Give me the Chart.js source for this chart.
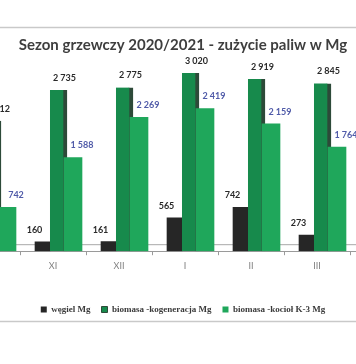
<!DOCTYPE html>
<html>
<head>
<meta charset="utf-8">
<script src="https://cdn.jsdelivr.net/npm/chart.js@4/dist/chart.umd.min.js"></script>
<style>
  html, body { margin:0; padding:0; background:#ffffff; }
  body { width:356px; height:364px; overflow:hidden; position:relative; }
  #wrap { position:absolute; left:0; top:0; width:366px; height:364px; }
</style>
</head>
<body>
<div id="wrap"><canvas id="c" width="366" height="364"></canvas></div>
<script>
// ---- data ----
const categories = ['X', 'XI', 'XII', 'I', 'II', 'III'];
const wegiel = [null, 160, 161, 565, 742, 273];
const kogeneracja = [2212, 2735, 2775, 3020, 2919, 2845];
const kociol = [742, 1588, 2269, 2419, 2159, 1764];
const seriesNames = ['węgiel Mg', 'biomasa -kogeneracja Mg', 'biomasa -kocioł K-3 Mg'];
const titleText = 'Sezon grzewczy 2020/2021 - zużycie paliw w Mg';

// position of each series inside a category (in category units)
const seriesShift = [-0.159, 0.083, 0.303];

function pts(arr, k) {
  return arr.map((v, i) => ({ x: i + seriesShift[k], y: v }));
}
function fmt(v) {
  return String(v).replace(/\B(?=(\d{3})+(?!\d))/g, ' ');
}

const decor = {
  id: 'decor',
  beforeDraw(chart) {
    const ctx = chart.ctx;
    ctx.save();
    ctx.strokeStyle = '#c9c9c9';
    ctx.lineWidth = 1.5;
    ctx.beginPath();
    ctx.moveTo(0, 27.5); ctx.lineTo(chart.width, 27.5);
    ctx.moveTo(0, 321.5); ctx.lineTo(chart.width, 321.5);
    ctx.stroke();
    ctx.restore();
  },
  beforeDatasetsDraw(chart) {
    const ctx = chart.ctx, a = chart.chartArea;
    ctx.save();
    ctx.strokeStyle = '#a8a8a8';
    ctx.lineWidth = 1;
    ctx.beginPath();
    ctx.moveTo(a.left, a.bottom - 6.5); ctx.lineTo(a.right, a.bottom - 6.5);
    ctx.stroke();
    ctx.restore();
  },
  afterDatasetsDraw(chart) {
    const ctx = chart.ctx;
    const dx = [-8, 6, 9];
    const colors = ['#2a2a2a', '#2a2a2a', '#4f5aa8'];
    ctx.save();
    ctx.font = 'bold 9px Lato';
    ctx.textAlign = 'center';
    ctx.textBaseline = 'middle';
    chart.data.datasets.forEach((ds, di) => {
      const meta = chart.getDatasetMeta(di);
      meta.data.forEach((el, i) => {
        const v = ds.data[i].y;
        if (v === null || v === undefined) return;
        ctx.fillStyle = colors[di];
        ctx.fillText(fmt(v), el.x + dx[di], el.y - 12);
      });
    });
    ctx.restore();
  }
};

new Chart(document.getElementById('c'), {
  type: 'bar',
  data: {
    datasets: [
      { label: seriesNames[0], data: pts(wegiel, 0), backgroundColor: '#262626',
        barThickness: 15, grouped: false, order: 2 },
      { label: seriesNames[1], data: pts(kogeneracja, 1), backgroundColor: '#178a4c',
        borderColor: '#2d4a39', borderWidth: { top: 0, right: 4, bottom: 0, left: 0 },
        borderSkipped: false, barThickness: 17, grouped: false, order: 1 },
      { label: seriesNames[2], data: pts(kociol, 2), backgroundColor: '#1fa75b',
        barThickness: 18, grouped: false, order: 0 }
    ]
  },
  options: {
    responsive: false,
    devicePixelRatio: 1,
    animation: false,
    layout: { padding: { left: 0, right: 0, top: 0, bottom: 40 } },
    scales: {
      x: {
        type: 'linear',
        min: 0.19697,
        max: 5.7424,
        offset: false,
        ticks: {
          stepSize: 1,
          includeBounds: false,
          autoSkip: false,
          maxRotation: 0,
          padding: 5,
          color: '#808080',
          font: { family: 'Lato', size: 9 },
          callback: (v) => Number.isInteger(v) ? categories[v] : ''
        },
        grid: { offset: true, drawOnChartArea: false, drawTicks: true, tickLength: 4, color: '#9a9a9a' },
        border: { display: true, color: '#9a9a9a', width: 1 },
        afterFit: (scale) => { scale.height += 18; }
      },
      y: {
        display: false,
        min: 0,
        max: 3242
      }
    },
    plugins: {
      title: {
        display: true,
        text: titleText,
        color: '#3e3e3e',
        font: { family: 'Lato', size: 15, weight: 'bold' },
        padding: { top: 36, bottom: 6 }
      },
      legend: {
        position: 'bottom',
        labels: {
          boxWidth: 6,
          boxHeight: 6,
          padding: 11,
          color: '#3a3a3a',
          font: { family: 'Liberation Serif', size: 9, weight: 'bold' },
          sort: (a, b) => a.datasetIndex - b.datasetIndex
        }
      },
      tooltip: { enabled: false }
    }
  },
  plugins: [decor]
});
</script>
</body>
</html>
